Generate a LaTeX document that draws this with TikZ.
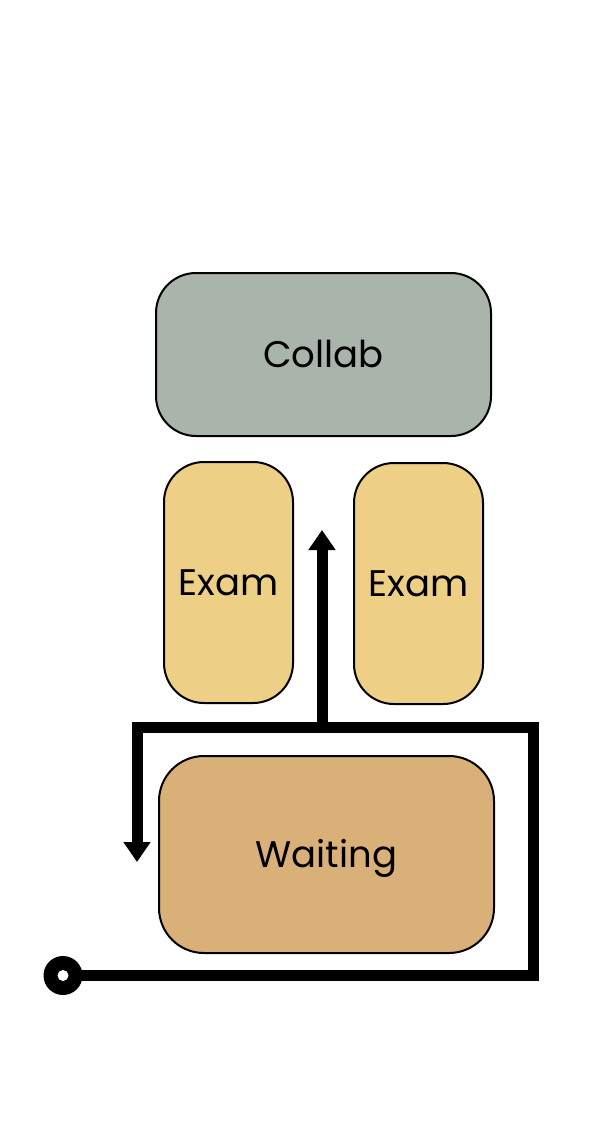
\documentclass[tikz,border=0pt]{standalone}
\usepackage{fontspec}
\setmainfont{Poppins}
\usetikzlibrary{arrows.meta}
\definecolor{collabgrey}{HTML}{A9B4AA}
\definecolor{examyellow}{HTML}{EDD086}
\definecolor{waittan}{HTML}{D9B077}
\begin{document}
\begin{tikzpicture}[x=1pt,y=-1pt,
  room/.style={draw=black,line width=2pt,rounded corners=40pt,font=\fontsize{37}{40}\selectfont,
    inner sep=0pt,text height=26pt,text depth=0pt},
  flow/.style={line width=11pt,line join=miter,-{Triangle[width=26pt,length=20pt]}}]
  \fill[white] (0,0) rectangle (615,1133);
  \useasboundingbox (0,0) rectangle (615,1133);
  \node[room,fill=collabgrey,minimum width=335pt,minimum height=163pt] (collab) at (323.5,354.5) {Collab};
  \node[room,fill=examyellow,minimum width=129pt,minimum height=241pt] (exam1) at (228.5,582.5) {Exam};
  \node[room,fill=examyellow,minimum width=129pt,minimum height=241pt] (exam2) at (418.5,583.5) {Exam};
  \node[room,fill=waittan,rounded corners=45pt,minimum width=335pt,minimum height=197pt] (waiting) at (326.5,854.5) {Waiting};
  \coordinate (start) at ( 63.0,975.5);
  \coordinate (br)    at (533.5,975.5);
  \coordinate (tr)    at (533.5,727.5);
  \coordinate (tl)    at (137.0,727.5);
  \coordinate (down)  at (137.0,862.0);
  \coordinate (split) at (322.0,727.5);
  \coordinate (up)    at (322.0,530.0);
  \draw[flow] (start) -- (br) -- (tr) -- (tl) -- (down);
  \draw[flow] (split) -- (up);
  \fill[black] (start) circle(19.5);
  \fill[white] (start) circle(5.5);
\end{tikzpicture}
\end{document}
